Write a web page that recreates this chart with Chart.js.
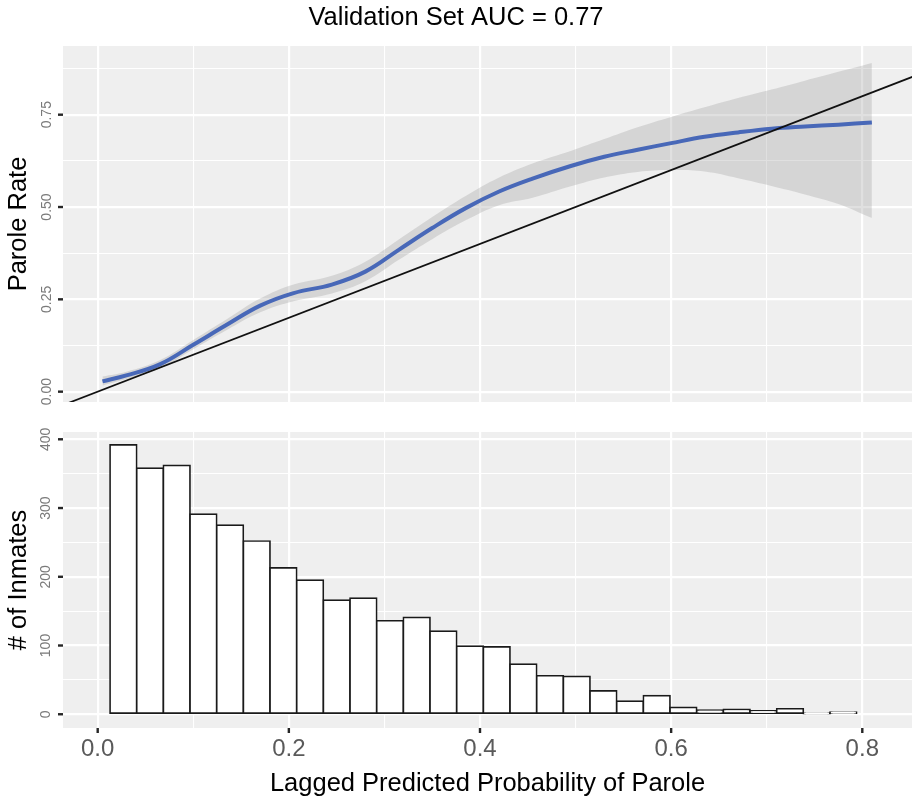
<!DOCTYPE html>
<html lang="en">
<head>
  <meta charset="UTF-8" />
  <title>Validation Set AUC</title>
  <script src="https://cdn.jsdelivr.net/npm/chart.js"></script>
  <style>
    body {
      margin: 0;
      background: #fff;
      overflow: hidden;
    }
    .panel {
      position: absolute;
      left: 0;
      width: 914px;
    }
  </style>
</head>
<body>
  <div class="panel" style="top:0;height:410px"><canvas id="calibChart" width="914" height="410"></canvas></div>
  <div class="panel" style="top:410px;height:389px"><canvas id="histChart" width="914" height="389"></canvas></div>

  <script>
    // smoothed parole rate vs lagged predicted probability
    const smoothX = [0.005, 0.03, 0.065, 0.10, 0.135, 0.17, 0.205, 0.245, 0.28, 0.315, 0.35, 0.385,
                     0.42, 0.455, 0.495, 0.53, 0.565, 0.60, 0.635, 0.67, 0.705, 0.74, 0.775, 0.81];
    const smoothY = [0.028, 0.044, 0.074, 0.127, 0.181, 0.233, 0.267, 0.290, 0.325, 0.384, 0.443, 0.497,
                     0.542, 0.577, 0.611, 0.636, 0.655, 0.673, 0.690, 0.702, 0.712, 0.718, 0.723, 0.729];
    const bandUpper = [0.041, 0.054, 0.085, 0.140, 0.196, 0.252, 0.290, 0.314, 0.352, 0.412, 0.473, 0.530,
                       0.580, 0.618, 0.652, 0.684, 0.716, 0.744, 0.770, 0.795, 0.818, 0.842, 0.866, 0.890];
    const bandLower = [0.017, 0.034, 0.063, 0.115, 0.167, 0.215, 0.245, 0.266, 0.299, 0.357, 0.413, 0.464,
                       0.505, 0.525, 0.556, 0.580, 0.595, 0.600, 0.596, 0.578, 0.557, 0.534, 0.508, 0.470];

    // histogram of predicted probabilities
    const binStart = 0.0129;
    const binWidth = 0.0279;
    const inmateCounts = [392, 358, 362, 291, 275, 252, 213, 195, 166, 169, 136, 141, 121, 99,
                          98, 73, 56, 55, 34, 19, 27, 10, 6, 7, 5, 8, 1, 3];

    // axis ticks (gridlines) and labelled ticks
    const xTicks = [0, 0.1, 0.2, 0.3, 0.4, 0.5, 0.6, 0.7, 0.8];
    const xLabelled = [0, 0.2, 0.4, 0.6, 0.8];
    const rateTicks = [0, 0.125, 0.25, 0.375, 0.5, 0.625, 0.75, 0.875];
    const rateLabelled = [0, 0.25, 0.5, 0.75];
    const countTicks = [0, 50, 100, 150, 200, 250, 300, 350, 400];
    const countLabelled = [0, 100, 200, 300, 400];

    const X_MIN = -0.0363, X_MAX = 0.852;
    Chart.defaults.font.family = "'Liberation Sans', Arial, Helvetica, sans-serif";

    const near = (list, v) => list.some(t => Math.abs(t - v) < 1e-6);

    const panelBg = {
      id: 'panelBg',
      beforeDraw(chart) {
        const { ctx, chartArea: a } = chart;
        ctx.save();
        ctx.fillStyle = '#EFEFEF';
        ctx.fillRect(a.left, a.top, a.width, a.height);
        ctx.restore();
      }
    };

    // short dark tick marks outside the panel, ggplot style
    const tickMarks = {
      id: 'tickMarks',
      afterDraw(chart) {
        const { ctx, chartArea: a, scales } = chart;
        const marks = chart.config.options.tickMarkValues || {};
        ctx.save();
        ctx.fillStyle = '#262626';
        (marks.x || []).forEach(v => {
          const px = scales.x.getPixelForValue(v);
          ctx.fillRect(px - 1.2, a.bottom, 2.4, 5);
        });
        (marks.y || []).forEach(v => {
          const py = scales.y.getPixelForValue(v);
          ctx.fillRect(a.left - 5, py - 1.2, 5, 2.4);
        });
        ctx.restore();
      }
    };

    function gridFor(labelled) {
      return {
        offset: false,
        color: '#FFFFFF',
        lineWidth: c => (c.tick && near(labelled, c.tick.value)) ? 2.2 : 1.1,
        drawTicks: true,
        tickLength: 5,
        tickColor: 'rgba(0,0,0,0)'
      };
    }

    const pts = (xs, ys) => xs.map((x, i) => ({ x, y: ys[i] }));

    // top panel: calibration curve
    new Chart(document.getElementById('calibChart'), {
      type: 'line',
      data: {
        datasets: [
          {
            data: pts(smoothX, bandUpper),
            borderWidth: 0,
            borderColor: 'rgba(0,0,0,0)',
            backgroundColor: 'rgba(153,153,153,0.3)',
            pointRadius: 0,
            fill: '+1',
            tension: 0.4,
            order: 3
          },
          {
            data: pts(smoothX, bandLower),
            borderWidth: 0,
            borderColor: 'rgba(0,0,0,0)',
            pointRadius: 0,
            fill: false,
            tension: 0.4,
            order: 3
          },
          {
            data: pts(smoothX, smoothY),
            borderColor: '#4868B8',
            borderWidth: 4,
            pointRadius: 0,
            fill: false,
            tension: 0.4,
            order: 1
          },
          {
            // identity line y = x
            data: [{ x: -0.1, y: -0.1 }, { x: 1, y: 1 }],
            borderColor: '#111111',
            borderWidth: 1.7,
            pointRadius: 0,
            fill: false,
            order: 0
          }
        ]
      },
      options: {
        responsive: false,
        animation: false,
        tickMarkValues: { y: rateLabelled },
        layout: { padding: { left: 0, right: 2, top: 0, bottom: 0 } },
        plugins: {
          legend: { display: false },
          tooltip: { enabled: false },
          title: {
            display: true,
            text: 'Validation Set AUC = 0.77',
            color: '#000',
            font: { size: 25.5, weight: 'normal', lineHeight: 1.2 },
            padding: { top: 3, bottom: 12.4 }
          }
        },
        scales: {
          x: {
            type: 'linear',
            min: X_MIN,
            max: X_MAX,
            afterBuildTicks: s => { s.ticks = xTicks.map(v => ({ value: v })); },
            afterFit: s => { s.height = 8; },
            ticks: { display: false },
            grid: Object.assign(gridFor(xLabelled), { drawTicks: false }),
            border: { display: false }
          },
          y: {
            type: 'linear',
            min: -0.028,
            max: 0.936,
            afterBuildTicks: s => { s.ticks = rateTicks.map(v => ({ value: v })); },
            afterFit: s => { s.width = 63; },
            ticks: {
              callback: v => near(rateLabelled, v) ? v.toFixed(2) : '',
              color: '#7A7A7A',
              font: { size: 14 },
              minRotation: 90,
              maxRotation: 90,
              crossAlign: 'center',
              padding: -3
            },
            grid: gridFor(rateLabelled),
            border: { display: false },
            title: {
              display: true,
              text: 'Parole Rate',
              color: '#000',
              font: { size: 25.5 },
              padding: { top: 4, bottom: 0 }
            }
          }
        }
      },
      plugins: [panelBg, tickMarks]
    });

    // bottom panel: histogram
    const binCenters = inmateCounts.map((_, i) => binStart + binWidth * (i + 0.5));

    new Chart(document.getElementById('histChart'), {
      type: 'bar',
      data: {
        datasets: [{
          data: pts(binCenters, inmateCounts),
          backgroundColor: '#FFFFFF',
          borderColor: '#1A1A1A',
          borderWidth: 1.7,
          borderSkipped: false,
          inflateAmount: 0.85,
          barPercentage: 1,
          categoryPercentage: 1
        }]
      },
      options: {
        responsive: false,
        animation: false,
        tickMarkValues: { x: xLabelled, y: countLabelled },
        layout: { padding: { left: 0, right: 2, top: 22, bottom: 0 } },
        plugins: {
          legend: { display: false },
          tooltip: { enabled: false }
        },
        scales: {
          x: {
            type: 'linear',
            min: X_MIN,
            max: X_MAX,
            offset: false,
            afterBuildTicks: s => { s.ticks = xTicks.map(v => ({ value: v })); },
            afterFit: s => { s.height = 71; },
            ticks: {
              callback: v => near(xLabelled, v) ? v.toFixed(1) : '',
              color: '#5A5A5A',
              font: { size: 24 },
              maxRotation: 0,
              autoSkip: false,
              padding: 2
            },
            grid: gridFor(xLabelled),
            border: { display: false },
            title: {
              display: true,
              text: 'Lagged Predicted Probability of Parole',
              color: '#000',
              font: { size: 25.5 },
              padding: { top: 0, bottom: 0 }
            }
          },
          y: {
            type: 'linear',
            min: -20,
            max: 410.6,
            afterBuildTicks: s => { s.ticks = countTicks.map(v => ({ value: v })); },
            afterFit: s => { s.width = 63; },
            ticks: {
              callback: v => near(countLabelled, v) ? String(v) : '',
              color: '#7A7A7A',
              font: { size: 14 },
              minRotation: 90,
              maxRotation: 90,
              crossAlign: 'center',
              padding: 0
            },
            grid: gridFor(countLabelled),
            border: { display: false },
            title: {
              display: true,
              text: '# of Inmates',
              color: '#000',
              font: { size: 25.5 },
              padding: { top: 4, bottom: 0 }
            }
          }
        }
      },
      plugins: [panelBg, tickMarks]
    });
  </script>
</body>
</html>
